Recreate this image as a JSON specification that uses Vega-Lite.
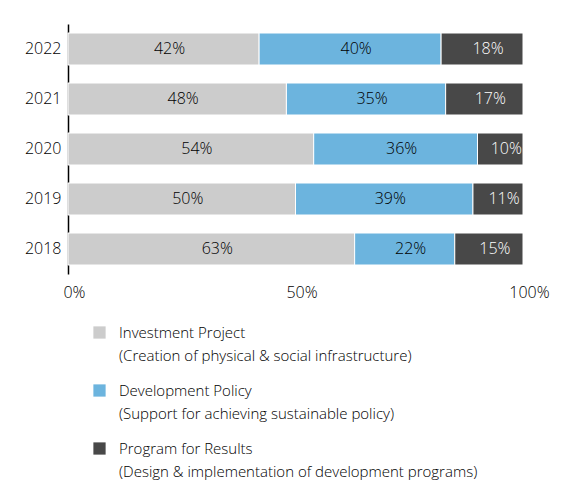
{
  "$schema": "https://vega.github.io/schema/vega-lite/v6.json",
  "autosize": {"type": "none"},
  "width": 455,
  "height": 250,
  "padding": {"left": 68, "top": 24, "right": 57, "bottom": 218},
  "background": "white",
  "config": {
    "font": "Open Sans",
    "view": {"stroke": null},
    "style": {"guide-label": {"lineHeight": 23}},
    "axis": {"labelFont": "Open Sans", "labelFontSize": 16, "labelFontWeight": 300, "labelColor": "#000000", "ticks": false, "grid": false, "title": null},
    "legend": {"labelFont": "Open Sans", "labelFontSize": 15, "labelFontWeight": 300, "labelColor": "#000000"}
  },
  "data": {
    "values": [
      {"year": "2022", "type": "Investment Project", "idx": 1, "share": 42},
      {"year": "2022", "type": "Development Policy", "idx": 2, "share": 40},
      {"year": "2022", "type": "Program for Results", "idx": 3, "share": 18},
      {"year": "2021", "type": "Investment Project", "idx": 1, "share": 48},
      {"year": "2021", "type": "Development Policy", "idx": 2, "share": 35},
      {"year": "2021", "type": "Program for Results", "idx": 3, "share": 17},
      {"year": "2020", "type": "Investment Project", "idx": 1, "share": 54},
      {"year": "2020", "type": "Development Policy", "idx": 2, "share": 36},
      {"year": "2020", "type": "Program for Results", "idx": 3, "share": 10},
      {"year": "2019", "type": "Investment Project", "idx": 1, "share": 50},
      {"year": "2019", "type": "Development Policy", "idx": 2, "share": 39},
      {"year": "2019", "type": "Program for Results", "idx": 3, "share": 11},
      {"year": "2018", "type": "Investment Project", "idx": 1, "share": 63},
      {"year": "2018", "type": "Development Policy", "idx": 2, "share": 22},
      {"year": "2018", "type": "Program for Results", "idx": 3, "share": 15}
    ]
  },
  "transform": [
    {"calculate": "datum.share + '%'", "as": "label"}
  ],
  "encoding": {
    "y": {
      "field": "year",
      "type": "ordinal",
      "sort": "descending",
      "scale": {"paddingInner": 0.36, "paddingOuter": 0.18},
      "axis": {"domain": true, "domainColor": "#000000", "domainWidth": 1.5, "labelPadding": 7}
    },
    "x": {
      "field": "share",
      "type": "quantitative",
      "stack": "normalize",
      "axis": {"domain": false, "values": [0, 0.5, 1], "format": ".0%", "labelPadding": 10, "labelOffset": 6, "labelFlush": false}
    },
    "order": {"field": "idx", "type": "ordinal"}
  },
  "layer": [
    {
      "mark": {"type": "bar", "stroke": "white", "strokeWidth": 1},
      "encoding": {
        "color": {
          "field": "type",
          "type": "nominal",
          "scale": {
            "domain": ["Investment Project", "Development Policy", "Program for Results"],
            "range": ["#cccccc", "#6cb4de", "#484848"]
          },
          "legend": {
            "title": null,
            "orient": "none",
            "legendX": 24,
            "legendY": 301,
            "direction": "vertical",
            "symbolType": "square",
            "symbolSize": 150,
            "symbolStrokeWidth": 0,
            "labelOffset": 12,
            "labelLimit": 500,
            "rowPadding": 19,
            "labelBaseline": "middle",
            "labelExpr": "datum.label == 'Investment Project' ? ['Investment Project', '(Creation of physical & social infrastructure)'] : datum.label == 'Development Policy' ? ['Development Policy', '(Support for achieving sustainable policy)'] : ['Program for Results', '(Design & implementation of development programs)']"
          }
        }
      }
    },
    {
      "mark": {"type": "text", "fontSize": 16, "fontWeight": 300, "dx": 6, "clip": true},
      "encoding": {
        "x": {"field": "share", "type": "quantitative", "stack": "normalize", "bandPosition": 0.5},
        "detail": {"field": "type"},
        "text": {"field": "label", "type": "nominal"},
        "color": {
          "condition": {"test": "datum.type == 'Program for Results'", "value": "#ffffff"},
          "value": "#000000"
        }
      }
    }
  ]
}
